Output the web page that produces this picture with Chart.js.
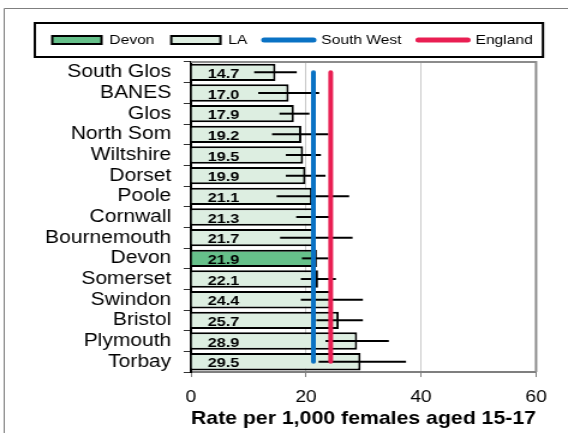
<!DOCTYPE html>
<html><head><meta charset="utf-8">
<script src="https://cdn.jsdelivr.net/npm/chart.js@4"></script>
<style>
html,body{margin:0;padding:0;background:#fff;overflow:hidden;}
#wrap{width:473px;height:433px;transform:scale(1.2008,1);transform-origin:0 0;}
</style></head><body>
<div id="wrap"><canvas id="c" width="473" height="433"></canvas></div>
<script>
const categories = ['South Glos','BANES','Glos','North Som','Wiltshire','Dorset','Poole','Cornwall','Bournemouth','Devon','Somerset','Swindon','Bristol','Plymouth','Torbay'];
const rates   = [14.7, 17.0, 17.9, 19.2, 19.5, 19.9, 21.1, 21.3, 21.7, 21.9, 22.1, 24.4, 25.7, 28.9, 29.5];
const ciLower = [11.0, 11.7, 15.4, 14.1, 16.5, 16.5, 14.9, 18.3, 15.5, 19.3, 19.1, 19.1, 21.8, 23.4, 22.2];
const ciUpper = [18.4, 22.3, 20.6, 23.9, 22.6, 23.4, 27.5, 24.3, 28.1, 23.9, 25.2, 29.9, 29.9, 34.4, 37.4];
const highlight = 'Devon';
const southWestRate = 21.3;
const englandRate = 24.3;
const xTicks = [0, 20, 40, 60];
const xTitle = 'Rate per 1,000 females aged 15-17';

const FONT = "'Liberation Sans', Arial, sans-serif";
Chart.defaults.color = '#000';
Chart.defaults.font.family = FONT;

const laData = rates.map((v, i) => categories[i] === highlight ? null : v);
const devonData = rates.map((v, i) => categories[i] === highlight ? v : null);

const decor = {
  id: 'decor',
  beforeDraw(chart) {
    const ctx = chart.ctx;
    ctx.save();
    ctx.strokeStyle = '#7f7f7f'; ctx.lineWidth = 1;
    ctx.beginPath(); ctx.moveTo(3.5, chart.height); ctx.lineTo(3.5, 8.5); ctx.lineTo(chart.width, 8.5); ctx.stroke();
    const hb = chart.legend && chart.legend.legendHitBoxes;
    if (hb && hb.length) {
      const first = hb[0], last = hb[hb.length - 1];
      const l = first.left - 14.5, r = last.left + last.width + 8.5;
      const t = first.top - 10.5, b = first.top + 23.5;
      ctx.strokeStyle = '#000'; ctx.lineWidth = 2;
      ctx.strokeRect(l, t, r - l, b - t);
    }
    ctx.restore();
  },
  beforeDatasetsDraw(chart) {
    const {ctx, chartArea: a} = chart;
    ctx.save();
    ctx.strokeStyle = '#8c8c8c'; ctx.lineWidth = 2;
    ctx.beginPath(); ctx.moveTo(a.left, a.top); ctx.lineTo(a.right, a.top); ctx.lineTo(a.right, a.bottom); ctx.stroke();
    ctx.restore();
  },
  afterDatasetDraw(chart, args) {
    const meta = args.meta;
    if (meta.type !== 'bar') return;
    const ds = chart.data.datasets[args.index];
    const xs = chart.scales.x;
    const ctx = chart.ctx;
    ctx.save();
    meta.data.forEach((el, i) => {
      if (ds.data[i] == null) return;
      const y = el.y;
      ctx.strokeStyle = '#000'; ctx.lineWidth = 2;
      ctx.beginPath();
      ctx.moveTo(xs.getPixelForValue(ciLower[i]), y);
      ctx.lineTo(xs.getPixelForValue(ciUpper[i]), y);
      ctx.stroke();
      ctx.fillStyle = '#000';
      ctx.font = 'bold 13.5px ' + FONT;
      ctx.textAlign = 'left'; ctx.textBaseline = 'middle';
      ctx.fillText(rates[i].toFixed(1), xs.getPixelForValue(0) + 14, y + 2);
    });
    ctx.restore();
  }
};

new Chart(document.getElementById('c'), {
  type: 'bar',
  data: {
    labels: categories,
    datasets: [
      { label: 'Devon', data: devonData, backgroundColor: '#66c08a', borderColor: '#000', borderWidth: 2, order: 1, xAxisID: 'x', yAxisID: 'y' },
      { label: 'LA', data: laData, backgroundColor: '#ddeee1', borderColor: '#000', borderWidth: 2, order: 1, xAxisID: 'x', yAxisID: 'y' },
      { type: 'line', label: 'South West', indexAxis: 'y', data: categories.map(() => southWestRate), borderColor: '#0a72c4', backgroundColor: '#0a72c4', borderWidth: 4, borderCapStyle: 'round', pointRadius: 0, fill: false, order: 0, xAxisID: 'x', yAxisID: 'y' },
      { type: 'line', label: 'England', indexAxis: 'y', data: categories.map(() => englandRate), borderColor: '#e91e52', backgroundColor: '#e91e52', borderWidth: 4, borderCapStyle: 'round', pointRadius: 0, fill: false, order: 0, xAxisID: 'x', yAxisID: 'y' }
    ]
  },
  options: {
    indexAxis: 'y',
    responsive: false,
    animation: false,
    devicePixelRatio: 1,
    grouped: false,
    categoryPercentage: 1,
    barPercentage: 0.84,
    layout: { padding: { left: 14.2, right: 0, top: 19.5, bottom: 2.8 } },
    plugins: {
      tooltip: { enabled: false },
      legend: {
        position: 'top',
        labels: {
          usePointStyle: true,
          pointStyleWidth: 41,
          boxHeight: 8,
          padding: 14,
          font: { size: 13, family: FONT },
          color: '#000',
          generateLabels(chart) {
            return chart.data.datasets.map((ds, i) => {
              const isLine = ds.type === 'line';
              return {
                text: ds.label, datasetIndex: i, hidden: false,
                fillStyle: isLine ? ds.borderColor : ds.backgroundColor,
                strokeStyle: isLine ? ds.borderColor : '#000',
                lineWidth: isLine ? 5 : 2,
                lineCap: 'round',
                pointStyle: isLine ? 'line' : 'rect',
                fontColor: '#000'
              };
            });
          }
        }
      }
    },
    scales: {
      x: {
        type: 'linear', position: 'bottom', min: 0, max: 60,
        afterBuildTicks(s) { s.ticks = xTicks.map(v => ({ value: v })); },
        grid: { color: '#c8c8c8', lineWidth: 1, tickLength: 5, tickColor: '#7f7f7f' },
        border: { color: '#7f7f7f', width: 2 },
        ticks: { padding: 11.1, font: { size: 16, family: FONT }, color: '#000' },
        title: { display: true, text: xTitle, font: { size: 17.8, weight: 'bold', family: FONT }, color: '#000', padding: { top: -9.6, bottom: 0 } }
      },
      xTop: {
        type: 'linear', position: 'top', display: true,
        grid: { display: false }, border: { display: false }, ticks: { display: false },
        afterFit(s) { s.height = 5.5; }
      },
      yRight: {
        type: 'linear', position: 'right', display: true,
        grid: { display: false }, border: { display: false }, ticks: { display: false },
        afterFit(s) { s.width = 26.6; }
      },
      y: {
        type: 'category', position: 'left', offset: true,
        afterFit(s) { s.width = 144.8; },
        grid: { drawOnChartArea: false, offset: true, tickLength: 6, color: '#333' },
        border: { color: '#000', width: 2 },
        ticks: { padding: 10.4, font: { size: 17.5, family: FONT }, color: '#000', autoSkip: false }
      }
    }
  },
  plugins: [decor]
});
</script>
</body></html>
